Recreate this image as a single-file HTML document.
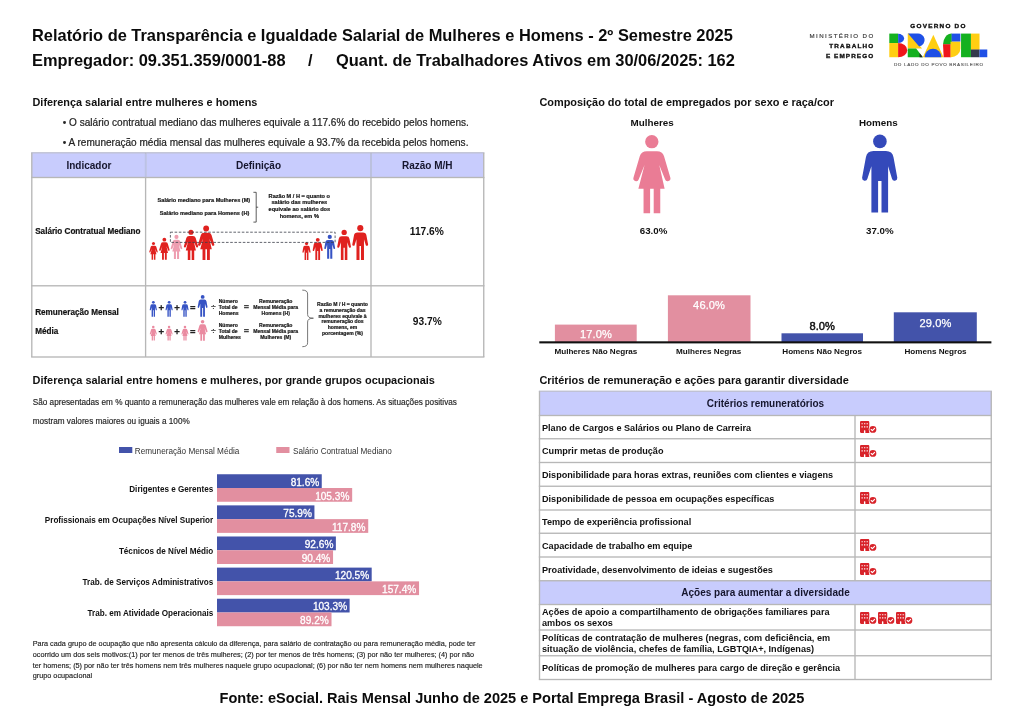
<!DOCTYPE html>
<html lang="pt-BR">
<head>
<meta charset="utf-8">
<title>Relatório de Transparência e Igualdade Salarial</title>
<style>
html,body{margin:0;padding:0;background:#fff;}
body{width:1024px;height:724px;position:relative;overflow:hidden;font-family:"Liberation Sans", sans-serif;}
#page{position:absolute;left:0;top:0;width:1024px;height:724px;will-change:transform;}
.t{position:absolute;line-height:1;white-space:nowrap;margin:0;padding:0;}
.r{position:absolute;}
svg{position:absolute;overflow:visible;}
svg text{font-family:"Liberation Sans", sans-serif;}
</style>
</head>
<body>
<div id="page">
<svg style="left:0;top:0" width="1024" height="724" viewBox="0 0 1024 724"><rect x="554.90" y="324.60" width="81.80" height="17.80" fill="#e28fa0"/><rect x="667.90" y="295.30" width="82.60" height="47.10" fill="#e28fa0"/><rect x="781.50" y="333.30" width="81.50" height="9.10" fill="#4353aa"/><rect x="893.80" y="312.30" width="83.00" height="30.10" fill="#4353aa"/><rect x="539.30" y="341.30" width="452.10" height="2.10" fill="#111"/><rect x="119.00" y="447.00" width="13.30" height="6.00" fill="#4353aa"/><rect x="276.25" y="447.00" width="13.25" height="6.00" fill="#e28fa0"/><rect x="217.00" y="474.25" width="104.75" height="13.75" fill="#4353aa"/><rect x="217.00" y="488.00" width="135.17" height="13.75" fill="#e28fa0"/><rect x="217.00" y="505.37" width="97.43" height="13.75" fill="#4353aa"/><rect x="217.00" y="519.12" width="151.22" height="13.75" fill="#e28fa0"/><rect x="217.00" y="536.49" width="118.87" height="13.75" fill="#4353aa"/><rect x="217.00" y="550.24" width="116.05" height="13.75" fill="#e28fa0"/><rect x="217.00" y="567.61" width="154.69" height="13.75" fill="#4353aa"/><rect x="217.00" y="581.36" width="202.05" height="13.75" fill="#e28fa0"/><rect x="217.00" y="598.73" width="132.61" height="13.75" fill="#4353aa"/><rect x="217.00" y="612.48" width="114.51" height="13.75" fill="#e28fa0"/></svg>
<div class="t" style="left:32.30px;top:28px;font-size:15.65px;font-weight:700;color:#0b0b0b;transform:scaleX(1.049);transform-origin:0 0;letter-spacing:0;">Relatório de Transparência e Igualdade Salarial de Mulheres e Homens - 2º Semestre 2025</div>
<div class="t" style="left:32.30px;top:53px;font-size:15.65px;font-weight:700;color:#0b0b0b;transform:scaleX(1.049);transform-origin:0 0;letter-spacing:0;">Empregador: 09.351.359/0001-88</div>
<div class="t" style="left:308.00px;top:53px;font-size:15.65px;font-weight:700;color:#0b0b0b;transform:scaleX(1.049);transform-origin:0 0;letter-spacing:0;">/</div>
<div class="t" style="left:336.20px;top:53px;font-size:15.65px;font-weight:700;color:#0b0b0b;transform:scaleX(1.049);transform-origin:0 0;letter-spacing:0;">Quant. de Trabalhadores Ativos em 30/06/2025: 162</div>
<svg style="left:0;top:0" width="1024" height="724" viewBox="0 0 1024 724">
<text transform="translate(809.6,38) scale(1.1,1)" font-size="5.6" font-weight="400" fill="#3a3a3a" stroke="#3a3a3a" stroke-width="0.15" textLength="57.82" lengthAdjust="spacing">MINISTÉRIO DO</text>
<text transform="translate(829.3,47.6) scale(1.08,1)" font-size="5.9" font-weight="700" fill="#111" stroke="#111" stroke-width="0.35" textLength="40.65" lengthAdjust="spacing">TRABALHO</text>
<text transform="translate(825.9,57.5) scale(1.08,1)" font-size="5.9" font-weight="700" fill="#111" stroke="#111" stroke-width="0.35" textLength="43.80" lengthAdjust="spacing">E EMPREGO</text>
<text transform="translate(910.3,28.4) scale(1.08,1)" font-size="5.9" font-weight="700" fill="#111" stroke="#111" stroke-width="0.35" textLength="51.02" lengthAdjust="spacing">GOVERNO DO</text>
<text transform="translate(893.9,66.2) scale(1.05,1)" font-size="4.4" font-weight="400" fill="#555" stroke="#555" stroke-width="0.12" textLength="84.86" lengthAdjust="spacing">DO LADO DO POVO BRASILEIRO</text>
<g transform="translate(885,28) scale(0.10742)">
<rect x="40" y="52" width="82" height="88" fill="#14b11f"/>
<rect x="40" y="140" width="82" height="132" fill="#ffce12"/>
<path d="M122,54A56,43 0 0 1 122,140Z" fill="#1f50e6"/>
<path d="M122,140A85,66 0 0 1 122,272Z" fill="#f0161a"/>
<path d="M212,52L228,52L345,192L212,192Z" fill="#ffce12"/>
<path d="M214,52H296A61,60 0 0 1 318,172Z" fill="#1f50e6"/>
<path d="M212,190H290L352,272H212Z" fill="#14b11f"/>
<path d="M322,232L352,272H322Z" fill="#222"/>
<path d="M450,62L545,272H352Z" fill="#ffce12"/>
<path d="M369,272A78,78 0 0 1 525,272Z" fill="#1f50e6"/>
<path d="M622,52V154H540A82,102 0 0 1 622,52Z" fill="#14b11f"/>
<rect x="620" y="52" width="82" height="75" fill="#1f50e6"/>
<path d="M540,152H612V272H546Z" fill="#f0161a"/>
<path d="M610,127H702V190A88,82 0 0 1 610,272Z" fill="#ffce12"/>
<rect x="708" y="52" width="92" height="220" fill="#14b11f"/>
<rect x="800" y="52" width="80" height="150" fill="#ffce12"/>
<rect x="800" y="200" width="80" height="72" fill="#343a4c"/>
<rect x="880" y="200" width="72" height="72" fill="#1f50e6"/>
</g></svg>
<div class="t" style="left:32.50px;top:97px;font-size:10.88px;font-weight:700;color:#111;">Diferença salarial entre mulheres e homens</div>
<div class="t" style="left:62.80px;top:118px;font-size:10.05px;font-weight:400;color:#222;-webkit-text-stroke:0.2px #222;">• O salário contratual mediano das mulheres equivale a 117.6% do recebido pelos homens.</div>
<div class="t" style="left:62.80px;top:138px;font-size:10.05px;font-weight:400;color:#222;-webkit-text-stroke:0.2px #222;">• A remuneração média mensal das mulheres equivale a 93.7% da recebida pelos homens.</div>
<svg style="left:0;top:0" width="1024" height="724" viewBox="0 0 1024 724"><rect x="31.80" y="152.80" width="451.95" height="24.70" fill="#c8ccfd"/><rect x="31.12" y="152.12" width="453.30" height="1.35" fill="#bfc1d2"/><rect x="31.12" y="176.82" width="453.30" height="1.35" fill="#b7b7b7"/><rect x="31.12" y="285.12" width="453.30" height="1.35" fill="#b7b7b7"/><rect x="31.12" y="356.32" width="453.30" height="1.35" fill="#b7b7b7"/><rect x="31.12" y="152.80" width="1.35" height="204.20" fill="#b7b7b7"/><rect x="144.92" y="152.80" width="1.35" height="204.20" fill="#b7b7b7"/><rect x="370.32" y="152.80" width="1.35" height="204.20" fill="#b7b7b7"/><rect x="483.07" y="152.80" width="1.35" height="204.20" fill="#b7b7b7"/><rect x="144.92" y="153.48" width="1.35" height="23.35" fill="#bbc2e6"/><rect x="370.32" y="153.48" width="1.35" height="23.35" fill="#bbc2e6"/></svg>
<div class="t" style="left:88.90px;transform:translateX(-50%);top:161px;font-size:10.0px;font-weight:700;color:#16162e;">Indicador</div>
<div class="t" style="left:258.50px;transform:translateX(-50%);top:161px;font-size:10.0px;font-weight:700;color:#16162e;">Definição</div>
<div class="t" style="left:427.20px;transform:translateX(-50%);top:161px;font-size:10.0px;font-weight:700;color:#16162e;">Razão M/H</div>
<div class="t" style="left:35.20px;top:228px;font-size:8.15px;font-weight:700;color:#111;-webkit-text-stroke:0.2px #111;">Salário Contratual Mediano</div>
<div class="t" style="left:35.20px;top:309px;font-size:8.15px;font-weight:700;color:#111;-webkit-text-stroke:0.2px #111;">Remuneração Mensal</div>
<div class="t" style="left:35.20px;top:328px;font-size:8.15px;font-weight:700;color:#111;-webkit-text-stroke:0.2px #111;">Média</div>
<div class="t" style="left:426.80px;transform:translateX(-50%);top:227px;font-size:10.2px;font-weight:700;color:#111;">117.6%</div>
<div class="t" style="left:427.30px;transform:translateX(-50%);top:317px;font-size:10.2px;font-weight:700;color:#111;">93.7%</div>
<svg style="left:0;top:0" width="1024" height="724" viewBox="0 0 1024 724">
<text x="250.20" y="201.50" font-size="5.6" font-weight="700" text-anchor="end" fill="#222" stroke="#222" stroke-width="0.22">Salário mediano para Mulheres (M)</text>
<text x="249.30" y="215.00" font-size="5.6" font-weight="700" text-anchor="end" fill="#222" stroke="#222" stroke-width="0.22">Salário mediano para Homens (H)</text>
<path d="M253.4,192.3H256.2V222.1H253.4M256.2,207.2H258.2" fill="none" stroke="#333" stroke-width="0.8"/>
<text x="299.30" y="197.90" font-size="5.6" font-weight="700" text-anchor="middle" fill="#222" stroke="#222" stroke-width="0.22">Razão M / H = quanto o</text>
<text x="299.30" y="204.45" font-size="5.6" font-weight="700" text-anchor="middle" fill="#222" stroke="#222" stroke-width="0.22">salário das mulheres</text>
<text x="299.30" y="211.00" font-size="5.6" font-weight="700" text-anchor="middle" fill="#222" stroke="#222" stroke-width="0.22">equivale ao salário dos</text>
<text x="299.30" y="217.55" font-size="5.6" font-weight="700" text-anchor="middle" fill="#222" stroke="#222" stroke-width="0.22">homens, em %</text>
<use href="#woman" x="149.18" y="242.00" width="8.65" height="17.80" fill="#e0211f" preserveAspectRatio="none"/>
<use href="#woman" x="159.05" y="237.80" width="10.69" height="22.00" fill="#e0211f" preserveAspectRatio="none"/>
<use href="#woman" x="170.64" y="234.90" width="11.71" height="24.10" fill="#ee9db0" preserveAspectRatio="none"/>
<use href="#woman" x="183.71" y="229.80" width="14.58" height="30.00" fill="#e0211f" preserveAspectRatio="none"/>
<use href="#woman" x="197.91" y="225.70" width="16.57" height="34.10" fill="#e0211f" preserveAspectRatio="none"/>
<use href="#man" x="301.99" y="242.10" width="9.02" height="17.90" fill="#e0211f" preserveAspectRatio="none"/>
<use href="#man" x="312.16" y="238.00" width="11.08" height="22.00" fill="#e0211f" preserveAspectRatio="none"/>
<use href="#man" x="323.68" y="234.90" width="12.04" height="23.90" fill="#3653c4" preserveAspectRatio="none"/>
<use href="#man" x="336.54" y="230.00" width="15.11" height="30.00" fill="#e0211f" preserveAspectRatio="none"/>
<use href="#man" x="351.46" y="225.30" width="17.48" height="34.70" fill="#e0211f" preserveAspectRatio="none"/>
<rect x="170.4" y="232.2" width="164.7" height="10.2" fill="none" stroke="#3b3f4a" stroke-width="0.8" stroke-dasharray="2.6 1.6"/>
<use href="#man" x="148.81" y="301.00" width="8.99" height="15.70" fill="#3653c4" preserveAspectRatio="none"/>
<use href="#woman" x="149.01" y="325.80" width="8.57" height="14.70" fill="#ea8aa0" preserveAspectRatio="none"/>
<use href="#man" x="164.61" y="301.00" width="8.99" height="15.70" fill="#3653c4" preserveAspectRatio="none"/>
<use href="#woman" x="164.81" y="325.80" width="8.57" height="14.70" fill="#ea8aa0" preserveAspectRatio="none"/>
<use href="#man" x="180.51" y="301.00" width="8.99" height="15.70" fill="#3653c4" preserveAspectRatio="none"/>
<use href="#woman" x="180.71" y="325.80" width="8.57" height="14.70" fill="#ea8aa0" preserveAspectRatio="none"/>
<use href="#man" x="196.76" y="295.10" width="11.67" height="21.60" fill="#3653c4" preserveAspectRatio="none"/>
<use href="#woman" x="196.79" y="320.00" width="11.62" height="20.80" fill="#ea8aa0" preserveAspectRatio="none"/>
<text x="161.20" y="310.81" font-size="9.6" font-weight="700" text-anchor="middle" fill="#222" stroke="#222" stroke-width="0.25">+</text>
<text x="177.00" y="310.81" font-size="9.6" font-weight="700" text-anchor="middle" fill="#222" stroke="#222" stroke-width="0.25">+</text>
<text x="192.80" y="310.74" font-size="9.4" font-weight="700" text-anchor="middle" fill="#222" stroke="#222" stroke-width="0.25">=</text>
<text x="213.40" y="309.85" font-size="8.6" font-weight="400" text-anchor="middle" fill="#333" stroke="#333" stroke-width="0.2">÷</text>
<text x="246.50" y="310.19" font-size="9.0" font-weight="700" text-anchor="middle" fill="#444" stroke="#444" stroke-width="0.25">=</text>
<text x="161.20" y="334.91" font-size="9.6" font-weight="700" text-anchor="middle" fill="#222" stroke="#222" stroke-width="0.25">+</text>
<text x="177.00" y="334.91" font-size="9.6" font-weight="700" text-anchor="middle" fill="#222" stroke="#222" stroke-width="0.25">+</text>
<text x="192.80" y="334.84" font-size="9.4" font-weight="700" text-anchor="middle" fill="#222" stroke="#222" stroke-width="0.25">=</text>
<text x="213.40" y="333.95" font-size="8.6" font-weight="400" text-anchor="middle" fill="#333" stroke="#333" stroke-width="0.2">÷</text>
<text x="246.50" y="334.30" font-size="9.0" font-weight="700" text-anchor="middle" fill="#444" stroke="#444" stroke-width="0.25">=</text>
<text x="218.70" y="302.70" font-size="5.05" font-weight="700" text-anchor="start" fill="#222" stroke="#222" stroke-width="0.22">Número</text>
<text x="218.70" y="308.60" font-size="5.05" font-weight="700" text-anchor="start" fill="#222" stroke="#222" stroke-width="0.22">Total de</text>
<text x="218.70" y="314.50" font-size="5.05" font-weight="700" text-anchor="start" fill="#222" stroke="#222" stroke-width="0.22">Homens</text>
<text x="218.70" y="326.80" font-size="5.05" font-weight="700" text-anchor="start" fill="#222" stroke="#222" stroke-width="0.22">Número</text>
<text x="218.70" y="332.80" font-size="5.05" font-weight="700" text-anchor="start" fill="#222" stroke="#222" stroke-width="0.22">Total de</text>
<text x="218.70" y="338.80" font-size="5.05" font-weight="700" text-anchor="start" fill="#222" stroke="#222" stroke-width="0.22">Mulheres</text>
<text x="275.70" y="302.70" font-size="5.05" font-weight="700" text-anchor="middle" fill="#222" stroke="#222" stroke-width="0.22">Remuneração</text>
<text x="275.70" y="308.60" font-size="5.05" font-weight="700" text-anchor="middle" fill="#222" stroke="#222" stroke-width="0.22">Mensal Média para</text>
<text x="275.70" y="314.50" font-size="5.05" font-weight="700" text-anchor="middle" fill="#222" stroke="#222" stroke-width="0.22">Homens (H)</text>
<text x="275.70" y="326.80" font-size="5.05" font-weight="700" text-anchor="middle" fill="#222" stroke="#222" stroke-width="0.22">Remuneração</text>
<text x="275.70" y="332.80" font-size="5.05" font-weight="700" text-anchor="middle" fill="#222" stroke="#222" stroke-width="0.22">Mensal Média para</text>
<text x="275.70" y="338.80" font-size="5.05" font-weight="700" text-anchor="middle" fill="#222" stroke="#222" stroke-width="0.22">Mulheres (M)</text>
<path d="M302.3,290.1Q307.6,290.1 307.6,294V314.5Q307.6,318.2 313.4,318.2Q307.6,318.2 307.6,322V342.8Q307.6,346.7 302.3,346.7" fill="none" stroke="#555" stroke-width="0.8"/>
<text x="342.50" y="306.00" font-size="5.05" font-weight="700" text-anchor="middle" fill="#222" stroke="#222" stroke-width="0.22">Razão M / H = quanto</text>
<text x="342.50" y="311.82" font-size="5.05" font-weight="700" text-anchor="middle" fill="#222" stroke="#222" stroke-width="0.22">a remuneração das</text>
<text x="342.50" y="317.64" font-size="5.05" font-weight="700" text-anchor="middle" fill="#222" stroke="#222" stroke-width="0.22">mulheres equivale à</text>
<text x="342.50" y="323.46" font-size="5.05" font-weight="700" text-anchor="middle" fill="#222" stroke="#222" stroke-width="0.22">remuneração dos</text>
<text x="342.50" y="329.28" font-size="5.05" font-weight="700" text-anchor="middle" fill="#222" stroke="#222" stroke-width="0.22">homens, em</text>
<text x="342.50" y="335.10" font-size="5.05" font-weight="700" text-anchor="middle" fill="#222" stroke="#222" stroke-width="0.22">porcentagem (%)</text>
</svg>
<div class="t" style="left:539.40px;top:97px;font-size:10.92px;font-weight:700;color:#111;">Composição do total de empregados por sexo e raça/cor</div>
<div class="t" style="left:652.10px;transform:translateX(-50%);top:118px;font-size:9.84px;font-weight:700;color:#111;">Mulheres</div>
<div class="t" style="left:878.40px;transform:translateX(-50%);top:118px;font-size:9.84px;font-weight:700;color:#111;">Homens</div>
<div class="t" style="left:653.60px;transform:translateX(-50%);top:226px;font-size:9.73px;font-weight:700;color:#111;">63.0%</div>
<div class="t" style="left:879.80px;transform:translateX(-50%);top:226px;font-size:9.73px;font-weight:700;color:#111;">37.0%</div>
<svg width="0" height="0" style="left:0;top:0"><defs>
<symbol id="woman" viewBox="0 0 38 78.2" overflow="visible">
<circle cx="18.9" cy="6.5" r="6.7"/>
<path d="M13.9,16.1H24.1Q29.6,16.1 31.2,21.2L37.5,42.6a2.75,2.75 0 0 1 -5.3,1.6L26.4,30 31.8,53.8H27.4V78.4H20.8V53.8H17.2V78.4H10.6V53.8H5.4L11.6,30 5.8,44.2a2.75,2.75 0 0 1 -5.3,-1.6L6.8,21.2Q8.4,16.1 13.9,16.1Z"/>
</symbol>
<symbol id="man" viewBox="0 0 35.4 77.3" overflow="visible">
<circle cx="17.9" cy="6.4" r="6.8"/>
<path d="M11.5,16.1H23.9Q30.4,16.1 31.5,22.3L35.3,42.8a2.7,2.7 0 0 1 -5.3,0.9L26.1,31.3V77.5H19.5V45.9H16.1V77.5H9.4V31.3L5.4,43.7a2.7,2.7 0 0 1 -5.3,-0.9L3.9,22.3Q5,16.1 11.5,16.1Z"/>
</symbol>
</defs></svg>
<svg style="left:633.3px;top:135.2px" width="37.8" height="78.2" fill="#ea7c95"><use href="#woman" width="37.8" height="78.2"/></svg>
<svg style="left:862px;top:135.2px" width="35.4" height="77.3" fill="#3449ba"><use href="#man" width="35.4" height="77.3"/></svg>
<div class="t" style="left:595.90px;transform:translateX(-50%);top:329px;font-size:11.1px;font-weight:400;color:#fff;letter-spacing:0.1px;-webkit-text-stroke:0.25px #fff;">17.0%</div>
<div class="t" style="left:709.10px;transform:translateX(-50%);top:300px;font-size:11.1px;font-weight:400;color:#fff;letter-spacing:0.1px;-webkit-text-stroke:0.25px #fff;">46.0%</div>
<div class="t" style="left:822.20px;transform:translateX(-50%);top:321px;font-size:11.1px;font-weight:400;color:#111;-webkit-text-stroke:0.45px #111;">8.0%</div>
<div class="t" style="left:935.40px;transform:translateX(-50%);top:318px;font-size:11.1px;font-weight:400;color:#fff;letter-spacing:0.1px;-webkit-text-stroke:0.25px #fff;">29.0%</div>
<div class="t" style="left:595.90px;transform:translateX(-50%);top:348px;font-size:8.12px;font-weight:700;color:#111;">Mulheres Não Negras</div>
<div class="t" style="left:708.70px;transform:translateX(-50%);top:348px;font-size:8.12px;font-weight:700;color:#111;">Mulheres Negras</div>
<div class="t" style="left:822.20px;transform:translateX(-50%);top:348px;font-size:8.12px;font-weight:700;color:#111;">Homens Não Negros</div>
<div class="t" style="left:935.50px;transform:translateX(-50%);top:348px;font-size:8.12px;font-weight:700;color:#111;">Homens Negros</div>
<div class="t" style="left:32.50px;top:375px;font-size:10.95px;font-weight:700;color:#111;">Diferença salarial entre homens e mulheres, por grande grupos ocupacionais</div>
<div class="t" style="left:32.75px;top:399px;font-size:8.2px;font-weight:400;color:#222;-webkit-text-stroke:0.15px #222;">São apresentadas em % quanto a remuneração das mulheres vale em relação à dos homens. As situações positivas</div>
<div class="t" style="left:32.75px;top:418px;font-size:8.2px;font-weight:400;color:#222;-webkit-text-stroke:0.15px #222;">mostram valores maiores ou iguais a 100%</div>
<div class="t" style="left:134.75px;top:448px;font-size:8.2px;font-weight:400;color:#333;">Remuneração Mensal Média</div>
<div class="t" style="left:293.00px;top:448px;font-size:8.17px;font-weight:400;color:#333;">Salário Contratual Mediano</div>
<div class="t" style="right:810.75px;top:486px;font-size:8.15px;font-weight:700;color:#111;">Dirigentes e Gerentes</div>
<div class="t" style="right:704.75px;top:478px;font-size:10.1px;font-weight:400;color:#fff;-webkit-text-stroke:0.3px #fff;">81.6%</div>
<div class="t" style="right:674.63px;top:492px;font-size:10.1px;font-weight:400;color:#fff;-webkit-text-stroke:0.3px #fff;">105.3%</div>
<div class="t" style="right:810.75px;top:517px;font-size:8.15px;font-weight:700;color:#111;">Profissionais em Ocupações Nível Superior</div>
<div class="t" style="right:712.07px;top:509px;font-size:10.1px;font-weight:400;color:#fff;-webkit-text-stroke:0.3px #fff;">75.9%</div>
<div class="t" style="right:658.58px;top:523px;font-size:10.1px;font-weight:400;color:#fff;-webkit-text-stroke:0.3px #fff;">117.8%</div>
<div class="t" style="right:810.75px;top:548px;font-size:8.15px;font-weight:700;color:#111;">Técnicos de Nível Médio</div>
<div class="t" style="right:690.63px;top:540px;font-size:10.1px;font-weight:400;color:#fff;-webkit-text-stroke:0.3px #fff;">92.6%</div>
<div class="t" style="right:693.75px;top:554px;font-size:10.1px;font-weight:400;color:#fff;-webkit-text-stroke:0.3px #fff;">90.4%</div>
<div class="t" style="right:810.75px;top:579px;font-size:8.15px;font-weight:700;color:#111;">Trab. de Serviços Administrativos</div>
<div class="t" style="right:654.81px;top:571px;font-size:10.1px;font-weight:400;color:#fff;-webkit-text-stroke:0.3px #fff;">120.5%</div>
<div class="t" style="right:607.75px;top:585px;font-size:10.1px;font-weight:400;color:#fff;-webkit-text-stroke:0.3px #fff;">157.4%</div>
<div class="t" style="right:810.75px;top:610px;font-size:8.15px;font-weight:700;color:#111;">Trab. em Atividade Operacionais</div>
<div class="t" style="right:676.89px;top:602px;font-size:10.1px;font-weight:400;color:#fff;-webkit-text-stroke:0.3px #fff;">103.3%</div>
<div class="t" style="right:695.29px;top:616px;font-size:10.1px;font-weight:400;color:#fff;-webkit-text-stroke:0.3px #fff;">89.2%</div>
<div class="t" style="left:32.75px;top:640px;font-size:7.28px;font-weight:400;color:#222;-webkit-text-stroke:0.15px #222;">Para cada grupo de ocupação que não apresenta cálculo da diferença, para salário de contratação ou para remuneração média, pode ter</div>
<div class="t" style="left:32.75px;top:651px;font-size:7.28px;font-weight:400;color:#222;-webkit-text-stroke:0.15px #222;">ocorrido um dos seis motivos:(1) por ter menos de três mulheres; (2) por ter menos de três homens; (3) por não ter mulheres; (4) por não</div>
<div class="t" style="left:32.75px;top:662px;font-size:7.28px;font-weight:400;color:#222;-webkit-text-stroke:0.15px #222;">ter homens; (5) por não ter três homens nem três mulheres naquele grupo ocupacional; (6) por não ter nem homens nem mulheres naquele</div>
<div class="t" style="left:32.75px;top:672px;font-size:7.28px;font-weight:400;color:#222;-webkit-text-stroke:0.15px #222;">grupo ocupacional</div>
<div class="t" style="left:539.40px;top:375px;font-size:10.94px;font-weight:700;color:#111;">Critérios de remuneração e ações para garantir diversidade</div>
<svg style="left:0;top:0" width="1024" height="724" viewBox="0 0 1024 724"><rect x="539.50" y="391.25" width="451.75" height="24.25" fill="#c8ccfd"/><rect x="539.50" y="580.75" width="451.75" height="23.75" fill="#c8ccfd"/><rect x="538.83" y="390.57" width="453.10" height="1.35" fill="#bfc1d2"/><rect x="538.83" y="414.82" width="453.10" height="1.35" fill="#b7b7b7"/><rect x="538.83" y="438.07" width="453.10" height="1.35" fill="#b7b7b7"/><rect x="538.83" y="461.82" width="453.10" height="1.35" fill="#b7b7b7"/><rect x="538.83" y="485.57" width="453.10" height="1.35" fill="#b7b7b7"/><rect x="538.83" y="509.32" width="453.10" height="1.35" fill="#b7b7b7"/><rect x="538.83" y="532.58" width="453.10" height="1.35" fill="#b7b7b7"/><rect x="538.83" y="556.33" width="453.10" height="1.35" fill="#b7b7b7"/><rect x="538.83" y="580.08" width="453.10" height="1.35" fill="#b7b7b7"/><rect x="538.83" y="603.83" width="453.10" height="1.35" fill="#b7b7b7"/><rect x="538.83" y="629.33" width="453.10" height="1.35" fill="#b7b7b7"/><rect x="538.83" y="655.08" width="453.10" height="1.35" fill="#b7b7b7"/><rect x="538.83" y="678.83" width="453.10" height="1.35" fill="#b7b7b7"/><rect x="538.83" y="391.25" width="1.35" height="288.25" fill="#b7b7b7"/><rect x="990.58" y="391.25" width="1.35" height="288.25" fill="#b7b7b7"/><rect x="854.33" y="415.50" width="1.35" height="165.25" fill="#b7b7b7"/><rect x="854.33" y="604.50" width="1.35" height="75.00" fill="#b7b7b7"/></svg>
<svg width="0" height="0" style="left:0;top:0"><defs>
<symbol id="bld" viewBox="0 0 16.5 12" overflow="visible">
<path fill="#d8232a" fill-rule="evenodd" d="M1.1,0.1H8.2a1.1,1.1 0 0 1 1.1,1.1V11.9H5.35V9.7a0.35,0.35 0 0 0 -0.35,-0.35H4.3a0.35,0.35 0 0 0 -0.35,0.35V11.9H1.1a1.1,1.1 0 0 1 -1.1,-1.1V1.2a1.1,1.1 0 0 1 1.1,-1.1Z
M1.5,2.2h1.25v1.1h-1.25zM4.05,2.2h1.25v1.1h-1.25zM6.6,2.2h1.25v1.1h-1.25zM1.5,5.3h1.25v1.1h-1.25zM4.05,5.3h1.25v1.1h-1.25zM6.6,5.3h1.25v1.1h-1.25z"/>
<circle cx="12.9" cy="8.4" r="4.2" fill="#fff"/>
<circle cx="12.9" cy="8.4" r="3.45" fill="#d8232a"/>
<path d="M11.2,8.5l1.2,1.2l2.2,-2.4" fill="none" stroke="#fff" stroke-width="1.1" stroke-linecap="round" stroke-linejoin="round"/>
</symbol></defs></svg>
<div class="t" style="left:765.50px;transform:translateX(-50%);top:399px;font-size:10px;font-weight:700;color:#16162e;">Critérios remuneratórios</div>
<div class="t" style="left:765.50px;transform:translateX(-50%);top:588px;font-size:10px;font-weight:700;color:#16162e;">Ações para aumentar a diversidade</div>
<div class="t" style="left:542.00px;top:424px;font-size:9.12px;font-weight:700;color:#111;">Plano de Cargos e Salários ou Plano de Carreira</div>
<svg style="left:860.00px;top:421.23px" width="16.5" height="12" viewBox="0 0 16.5 12"><use href="#bld"/></svg>
<div class="t" style="left:542.00px;top:447px;font-size:9.12px;font-weight:700;color:#111;">Cumprir metas de produção</div>
<svg style="left:860.00px;top:444.73px" width="16.5" height="12" viewBox="0 0 16.5 12"><use href="#bld"/></svg>
<div class="t" style="left:542.00px;top:471px;font-size:9.12px;font-weight:700;color:#111;">Disponibilidade para horas extras, reuniões com clientes e viagens</div>
<div class="t" style="left:542.00px;top:495px;font-size:9.12px;font-weight:700;color:#111;">Disponibilidade de pessoa em ocupações específicas</div>
<svg style="left:860.00px;top:492.23px" width="16.5" height="12" viewBox="0 0 16.5 12"><use href="#bld"/></svg>
<div class="t" style="left:542.00px;top:518px;font-size:9.12px;font-weight:700;color:#111;">Tempo de experiência profissional</div>
<div class="t" style="left:542.00px;top:542px;font-size:9.12px;font-weight:700;color:#111;">Capacidade de trabalho em equipe</div>
<svg style="left:860.00px;top:539.23px" width="16.5" height="12" viewBox="0 0 16.5 12"><use href="#bld"/></svg>
<div class="t" style="left:542.00px;top:566px;font-size:9.12px;font-weight:700;color:#111;">Proatividade, desenvolvimento de ideias e sugestões</div>
<svg style="left:860.00px;top:562.98px" width="16.5" height="12" viewBox="0 0 16.5 12"><use href="#bld"/></svg>
<div class="t" style="left:542.00px;top:608px;font-size:9.12px;font-weight:700;color:#111;">Ações de apoio a compartilhamento de obrigações familiares para</div>
<div class="t" style="left:542.00px;top:619px;font-size:9.12px;font-weight:700;color:#111;">ambos os sexos</div>
<svg style="left:860.00px;top:612.00px" width="16.5" height="12" viewBox="0 0 16.5 12"><use href="#bld"/></svg>
<svg style="left:878.10px;top:612.00px" width="16.5" height="12" viewBox="0 0 16.5 12"><use href="#bld"/></svg>
<svg style="left:896.20px;top:612.00px" width="16.5" height="12" viewBox="0 0 16.5 12"><use href="#bld"/></svg>
<div class="t" style="left:542.00px;top:634px;font-size:9.12px;font-weight:700;color:#111;">Políticas de contratação de mulheres (negras, com deficiência, em</div>
<div class="t" style="left:542.00px;top:645px;font-size:9.12px;font-weight:700;color:#111;">situação de violência, chefes de família, LGBTQIA+, Indígenas)</div>
<div class="t" style="left:542.00px;top:664px;font-size:9.12px;font-weight:700;color:#111;">Políticas de promoção de mulheres para cargo de direção e gerência</div>
<div class="t" style="left:219.50px;top:691px;font-size:14.55px;font-weight:700;color:#0b0b0b;">Fonte: eSocial. Rais Mensal Junho de 2025 e Portal Emprega Brasil - Agosto de 2025</div>
</div>
</body>
</html>
